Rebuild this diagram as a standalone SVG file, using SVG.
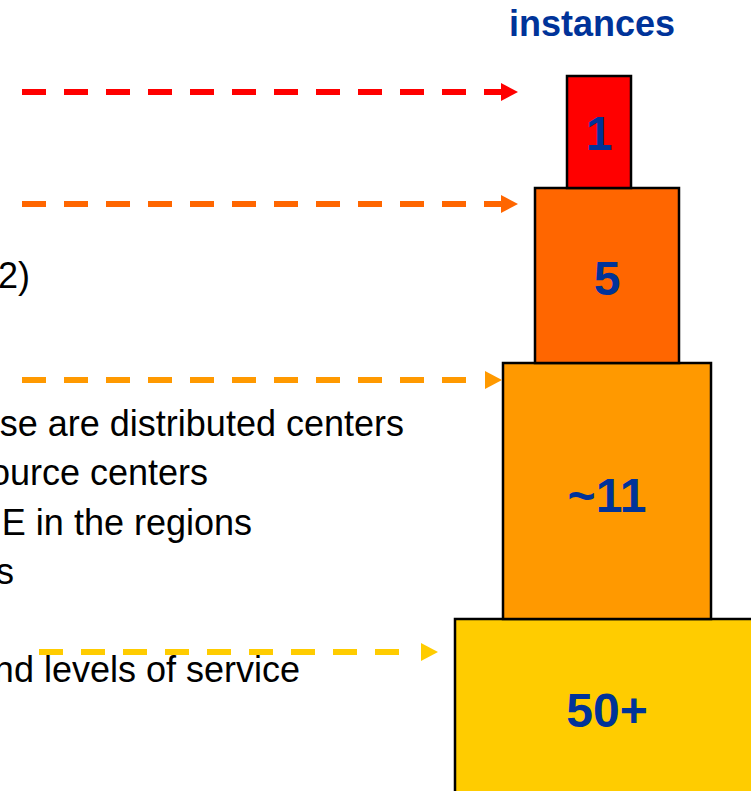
<svg xmlns="http://www.w3.org/2000/svg" width="751" height="791" viewBox="0 0 751 791">
  <style>
    .body { font-family: "Liberation Sans", Arial, sans-serif; font-size: 36px; fill: #000000; }
    .title { font-family: "Liberation Sans", Arial, sans-serif; font-size: 36px; font-weight: bold; fill: #003399; }
    .num { font-family: "Liberation Sans", Arial, sans-serif; font-size: 48px; font-weight: bold; fill: #003399; text-anchor: middle; }
    .tier { stroke: #000000; stroke-width: 2.5; }
    .dash { fill: none; stroke-width: 6; stroke-dasharray: 24 18; }
  </style>
  <defs>
    <marker id="ahRed" markerUnits="userSpaceOnUse" markerWidth="17" markerHeight="18" refX="0" refY="9" orient="auto" viewBox="0 0 17 18">
      <path d="M0,0 L17,9 L0,18 Z" fill="#FF0000"/>
    </marker>
    <marker id="ahOrange" markerUnits="userSpaceOnUse" markerWidth="17" markerHeight="18" refX="0" refY="9" orient="auto" viewBox="0 0 17 18">
      <path d="M0,0 L17,9 L0,18 Z" fill="#FF6600"/>
    </marker>
    <marker id="ahAmber" markerUnits="userSpaceOnUse" markerWidth="17" markerHeight="18" refX="0" refY="9" orient="auto" viewBox="0 0 17 18">
      <path d="M0,0 L17,9 L0,18 Z" fill="#FF9900"/>
    </marker>
    <marker id="ahYellow" markerUnits="userSpaceOnUse" markerWidth="17" markerHeight="18" refX="0" refY="9" orient="auto" viewBox="0 0 17 18">
      <path d="M0,0 L17,9 L0,18 Z" fill="#FFCC00"/>
    </marker>
  </defs>

  <rect width="751" height="791" fill="#FFFFFF"/>

  <g id="texts">
    <text class="title" x="592" y="36" text-anchor="middle">instances</text>
    <text class="body" x="30" y="288" text-anchor="end">2)</text>
    <text class="body" x="404" y="436" text-anchor="end">se are distributed centers</text>
    <text class="body" x="208" y="485" text-anchor="end">ource centers</text>
    <text class="body" x="252" y="535" text-anchor="end">E in the regions</text>
    <text class="body" x="14" y="584" text-anchor="end">s</text>
    <text class="body" x="300" y="682" text-anchor="end">nd levels of service</text>
  </g>

  <g id="tier4">
    <rect class="tier" x="455" y="619" width="304" height="200" fill="#FFCC00"/>
    <text class="num" x="607" y="727">50+</text>
  </g>
  <g id="tier3">
    <rect class="tier" x="503" y="363" width="208" height="256" fill="#FF9900"/>
    <text class="num" x="607" y="512">~11</text>
  </g>
  <g id="tier2">
    <rect class="tier" x="535" y="188" width="144" height="175" fill="#FF6600"/>
    <text class="num" x="607" y="295">5</text>
  </g>
  <g id="tier1">
    <rect class="tier" x="567" y="76" width="64" height="112" fill="#FF0000"/>
    <text class="num" x="599" y="150">1</text>
  </g>

  <g id="connectors">
    <line class="dash" x1="22" y1="92" x2="501" y2="92" stroke="#FF0000" marker-end="url(#ahRed)"/>
    <line class="dash" x1="22" y1="204" x2="501" y2="204" stroke="#FF6600" marker-end="url(#ahOrange)"/>
    <line class="dash" x1="22" y1="380" x2="484" y2="380" stroke="#FF9900"/>
    <path d="M485,371 L502,380 L485,389 Z" fill="#FF9900"/>
    <line class="dash" x1="39" y1="652" x2="417" y2="652" stroke="#FFCC00"/>
    <path d="M421,643 L438,652 L421,661 Z" fill="#FFCC00"/>
  </g>
</svg>
